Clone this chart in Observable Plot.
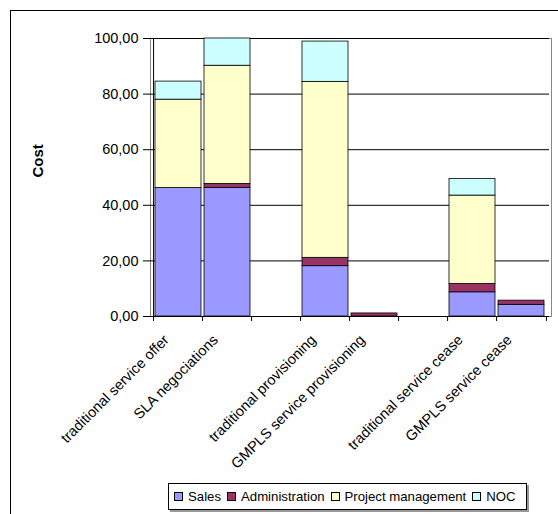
<!DOCTYPE html>
<html>
<head>
<meta charset="utf-8">
<script src="https://cdn.jsdelivr.net/npm/d3@7"></script>
<script src="https://cdn.jsdelivr.net/npm/@observablehq/plot@0.6"></script>
<style>
  html, body { margin: 0; padding: 0; background: #fff; }
  #wrap { position: relative; width: 558px; height: 514px; overflow: hidden; font-family: "Liberation Sans", Arial, sans-serif; }
  #outer { position: absolute; left: 10px; top: 10px; width: 600px; height: 600px; border-left: 1.5px solid #000; border-top: 1.5px solid #000; }
  #legend { position: absolute; left: 168px; top: 483px; width: 359px; height: 27px; border: 1px solid #000; box-shadow: 2px 2px 0 #999; background: #fff;
    display: flex; align-items: center; gap: 6px; padding-left: 5px; box-sizing: border-box; font-size: 13.2px; white-space: nowrap; }
  .item { display: flex; align-items: center; gap: 5px; white-space: nowrap; }
  .sw { width: 7px; height: 7px; border: 1px solid #000; flex: none; }
  svg { position: absolute; left: 0; top: 0; }
</style>
</head>
<body>
<div id="wrap"><div id="outer"></div></div>
<script>
// slots (two empty gaps between groups)
const slotKeys = ["s1", "s2", "gap1", "s3", "s4", "gap2", "s5", "s6"];
const slotLabels = ["traditional service offer", "SLA negociations", "", "traditional provisioning", "GMPLS service provisioning", "", "traditional service cease", "GMPLS service cease"];
const barSlots = ["s1", "s2", "s3", "s4", "s5", "s6"];
const seriesNames = ["Sales", "Administration", "Project management", "NOC"];
const seriesColors = ["#9999FF", "#993366", "#FFFFCC", "#CCFFFF"];
const sales = [46.2, 46.2, 18.1, 0, 8.7, 4.2];
const admin = [0, 1.5, 3.0, 1.1, 3.0, 1.5];
const projectMgmt = [31.8, 42.5, 63.3, 0, 31.8, 0];
const noc = [6.5, 9.8, 14.5, 0, 6.0, 0];
const yTicks = [0, 20, 40, 60, 80, 100];

const seriesValues = [sales, admin, projectMgmt, noc];
const rows = [];
barSlots.forEach((s, i) => {
  seriesNames.forEach((name, j) => {
    const v = seriesValues[j][i];
    if (v > 0) rows.push({slot: s, series: name, value: v});
  });
});
const labelOf = Object.fromEntries(slotKeys.map((k, i) => [k, slotLabels[i]]));

const W = 558, ML = 150, MR = 9;
const step = (W - ML - MR) / slotKeys.length;

const chart = Plot.plot({
  width: W, height: 514,
  marginLeft: ML, marginRight: MR, marginTop: 38, marginBottom: 198,
  style: {fontFamily: "'Liberation Sans', Arial, sans-serif", fontSize: "14.5px", background: "transparent", overflow: "visible", color: "#000"},
  x: {domain: slotKeys, paddingInner: 0.06, paddingOuter: 0.03, axis: null},
  y: {domain: [0, 100], axis: null},
  color: {domain: seriesNames, range: seriesColors},
  marks: [
    Plot.frame({stroke: "#888", insetRight: -2}),
    Plot.gridY(yTicks, {stroke: "#000", strokeOpacity: 1}),
    Plot.barY(rows, {x: "slot", y: "value", fill: "series", stroke: "#000", strokeWidth: 0.8}),
    Plot.ruleY([0], {stroke: "#000"}),
    Plot.ruleX(slotKeys, {x: d => d, y1: 0, y2: -1.8, dx: -step / 2, stroke: "#000"}),
    Plot.ruleX([slotKeys[slotKeys.length - 1]], {x: d => d, y1: 0, y2: -1.8, dx: step / 2, stroke: "#000"}),
    Plot.ruleX([slotKeys[0]], {x: d => d, y1: 0, y2: 100, dx: -step / 2, stroke: "#000"}),
    Plot.axisY(yTicks, {label: null, tickSize: 7, tickPadding: 5, tickFormat: d => d.toFixed(2).replace(".", ","), fontSize: 14.5}),
    Plot.axisX(slotKeys.filter(k => labelOf[k] !== ""), {label: null, tickSize: 0, tickPadding: 21, dx: -12, tickRotate: -45, tickFormat: k => labelOf[k], fontSize: 14.5}),
    Plot.text(["Cost"], {frameAnchor: "left", dx: -112, rotate: -90, fontWeight: "bold", fontSize: 15})
  ]
});
document.getElementById("wrap").appendChild(chart);

const legend = document.createElement("div");
legend.id = "legend";
seriesNames.forEach((name, j) => {
  const it = document.createElement("div");
  it.className = "item";
  const sw = document.createElement("div");
  sw.className = "sw";
  sw.style.background = seriesColors[j];
  const tx = document.createElement("span");
  tx.textContent = name;
  it.appendChild(sw); it.appendChild(tx);
  legend.appendChild(it);
});
document.getElementById("wrap").appendChild(legend);
</script>
</body>
</html>
